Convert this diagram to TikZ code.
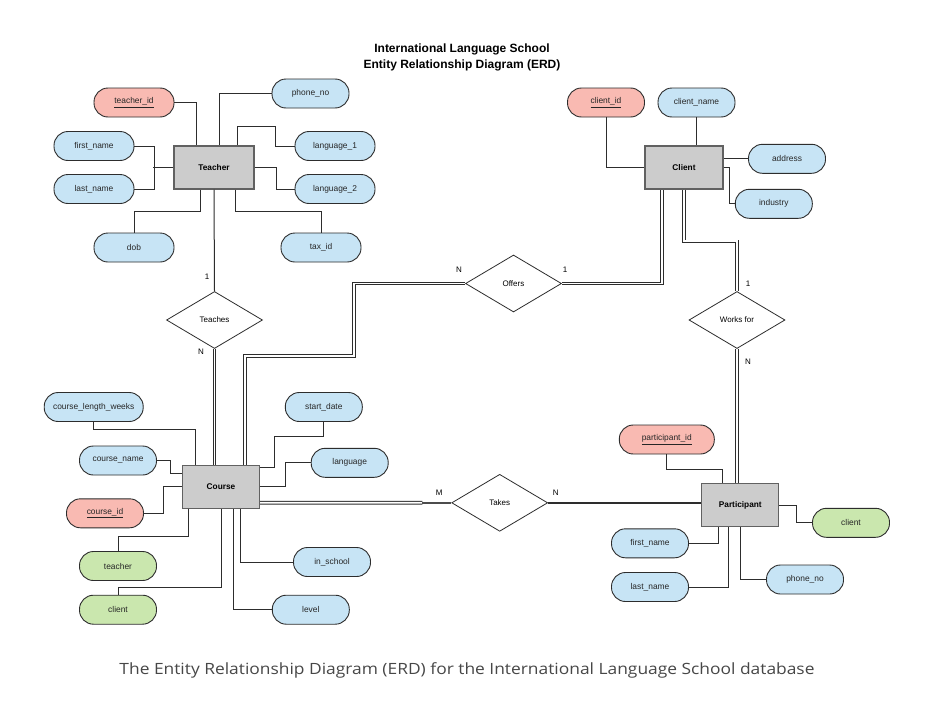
\documentclass[tikz,border=0pt]{standalone}
\usepackage{fontspec}
\setmainfont{Liberation Sans}
\newfontfamily\capfont{Open Sans}
\usetikzlibrary{shapes.geometric}
\definecolor{attrblue}{RGB}{199,228,245}
\definecolor{attrred}{RGB}{249,186,178}
\definecolor{attrgreen}{RGB}{202,231,174}
\definecolor{entgray}{RGB}{204,204,204}
\definecolor{linec}{RGB}{45,45,45}
\begin{document}
\begin{tikzpicture}[x=1pt,y=-1pt,
  attr/.style={draw=linec, line width=0.9pt, rounded corners=14pt, minimum width=77pt, minimum height=29pt, inner sep=0pt, font=\fontsize{8.4}{9}\selectfont, text=black!85},
  battr/.style={attr, fill=attrblue},
  rattr/.style={attr, fill=attrred},
  gattr/.style={attr, fill=attrgreen},
  entity/.style={draw=black!62, line width=1.3pt, fill=entgray, minimum width=77pt, minimum height=43pt, inner sep=0pt, font=\bfseries\fontsize{8.3}{9}\selectfont},
  rel/.style={diamond, draw=linec, line width=0.8pt, fill=white, minimum width=96pt, minimum height=57pt, inner sep=0pt, font=\fontsize{8}{9}\selectfont},
  conn/.style={draw=linec, line width=1pt},
  dbl/.style={draw=linec, double=white, double distance=1.8pt, line width=0.95pt},
  card/.style={font=\fontsize{8}{9}\selectfont, inner sep=0pt}
]
\fill[white] (0,0) rectangle (933,701);
\useasboundingbox (0,0) rectangle (933,701);

% title and caption
\node[font=\bfseries\fontsize{12}{16}\selectfont, align=center] (title) at (462,57.5) {International Language School\\Entity Relationship Diagram (ERD)};
\node[font=\capfont\fontsize{15.5}{18}\selectfont, text=black!72] (cap) at (467,670) {\resizebox{695pt}{\height}{The Entity Relationship Diagram (ERD) for the International Language School database}};

% entities
\node[entity, minimum width=80pt] (teacher) at (214,167.5) {Teacher};
\node[entity, minimum width=78pt] (client) at (684,167.5) {Client};
\node[entity] (course) at (221,486.7) {Course};
\node[entity] (participant) at (740.3,505) {Participant};

% relationships
\node[rel] (teaches) at (214.5,320) {Teaches};
\node[rel] (offers) at (513.5,283.5) {Offers};
\node[rel] (works) at (737,320) {Works for};
\node[rel] (takes) at (499.7,502.8) {Takes};

% teacher attributes
\node[rattr, minimum width=80pt] (tid) at (134,102.5) {\underline{teacher\_id}};
\node[battr] (tph) at (310.5,93.5) {phone\_no};
\node[battr, minimum width=80pt] (tfn) at (94,146) {first\_name};
\node[battr, minimum width=80pt] (tln) at (94,189) {last\_name};
\node[battr, minimum width=80pt] (tl1) at (335,146) {language\_1};
\node[battr, minimum width=80pt] (tl2) at (335,189) {language\_2};
\node[battr, minimum width=80pt] (tdob) at (134,247.5) {dob};
\node[battr, minimum width=80pt] (ttax) at (321,247.5) {tax\_id};

% client attributes
\node[rattr] (cid) at (606,102.5) {\underline{client\_id}};
\node[battr] (cname) at (696.5,102.5) {client\_name};
\node[battr] (caddr) at (787,158.8) {address};
\node[battr] (cind) at (773.8,203.8) {industry};

% course attributes
\node[battr, minimum width=99pt] (clw) at (93.7,407) {course\_length\_weeks};
\node[battr] (cname2) at (118,460.5) {course\_name};
\node[rattr] (cid2) at (105,513.3) {\underline{course\_id}};
\node[gattr] (cteach) at (118,566) {teacher};
\node[gattr] (cclient) at (118,609.7) {client};
\node[battr] (csd) at (323.8,407) {start\_date};
\node[battr] (clang) at (349.7,462.8) {language};
\node[battr] (cins) at (332,562) {in\_school};
\node[battr] (clevel) at (310.8,609.7) {level};

% participant attributes
\node[rattr, minimum width=95pt] (pid) at (666.8,439.5) {\underline{participant\_id}};
\node[gattr] (pclient) at (851,522.8) {client};
\node[battr] (pfn) at (650,543.3) {first\_name};
\node[battr] (pln) at (650,587) {last\_name};
\node[battr] (pph) at (805,579.5) {phone\_no};

% teacher connectors
\draw[conn] (tid.east) -| ([xshift=-17.5pt]teacher.north);
\draw[conn] (tph.west) -| ([xshift=5.3pt]teacher.north);
\draw[conn] (tfn.east) -- ++(20,0) |- (tln.east);
\draw[conn] (teacher.west) -- ++(-20,0);
\draw[conn] (tl1.west) -- ++(-19.3,0) -- ++(0,-19.3) -| ([xshift=23.7pt]teacher.north);
\draw[conn] (teacher.east) -- ++(21.7,0) |- (tl2.west);
\draw[conn] ([xshift=-14pt]teacher.south) -- ++(0,22) -| (tdob.north);
\draw[conn] ([xshift=21.7pt]teacher.south) -- ++(0,22) -| (ttax.north);
\draw[conn] (teacher.south) -- (teaches.north);

% client connectors
\draw[conn] (cid.south) |- (client.west);
\draw[conn] (cname.south) -- (cname.south |- client.north);
\draw[conn] (caddr.west) -- (caddr.west -| client.east);
\draw[conn] (client.east) -- ++(6,0) |- (cind.west);

% course connectors
\draw[conn] (clw.south) -- ++(0,7.5) -| ([xshift=-25.3pt]course.north);
\draw[conn] (cname2.east) -- ++(13.5,0) |- ([yshift=13.4pt]course.west);
\draw[conn] (cid2.east) -- ++(20,0) |- (course.west);
\draw[conn] (cteach.north) -- ++(0,-14.2) -| ([xshift=-32.7pt]course.south);
\draw[conn] (cclient.north) -- ++(0,-7) -| (course.south);
\draw[conn] (csd.south) -- ++(0,14.5) -- ++(-49.5,0) |- ([yshift=19.4pt]course.east);
\draw[conn] (clang.west) -- ++(-25.3,0) |- (course.east);
\draw[conn] ([xshift=19pt]course.south) |- (cins.west);
\draw[conn] ([xshift=12.3pt]course.south) |- (clevel.west);

% participant connectors
\draw[conn] (pid.south) -- ++(0,15) -| ([xshift=-18pt]participant.north);
\draw[conn] (participant.east) -- ++(17.2,0) |- (pclient.west);
\draw[conn] ([xshift=-22pt]participant.south) |- (pfn.east);
\draw[conn] ([xshift=-12pt]participant.south) |- (pln.east);
\draw[conn] (participant.south) |- (pph.west);

% relationship connectors
\draw[dbl] (teaches.south) -- (teaches.south |- course.north);
\draw[dbl] (offers.west) -- ++(-111,0) -- ++(0,72.5) -| ([xshift=24pt]course.north);
\draw[dbl] (offers.east) -| ([xshift=-22.3pt]client.south);
\draw[dbl] (client.south) -- ++(0,51.7) -| (works.north);
\draw[dbl] (works.south) -- (works.south |- participant.north);
\coordinate (tk) at ([xshift=-29pt]takes.west);
\draw[dbl] ([yshift=-16pt]course.east) -- (tk);
\draw[draw=black!70, line width=2pt] (tk) -- (takes.west);
\draw[draw=linec, line width=1.4pt] (takes.east) -- (takes.east -| participant.west);

% cardinalities
\node[card] (c1) at (207,277) {1};
\node[card] (c2) at (201,352) {N};
\node[card] (c3) at (459,270) {N};
\node[card] (c4) at (565,270) {1};
\node[card] (c5) at (748,284) {1};
\node[card] (c6) at (748,362) {N};
\node[card] (c7) at (439.3,492.3) {M};
\node[card] (c8) at (555.7,492.3) {N};
\end{tikzpicture}
\end{document}
